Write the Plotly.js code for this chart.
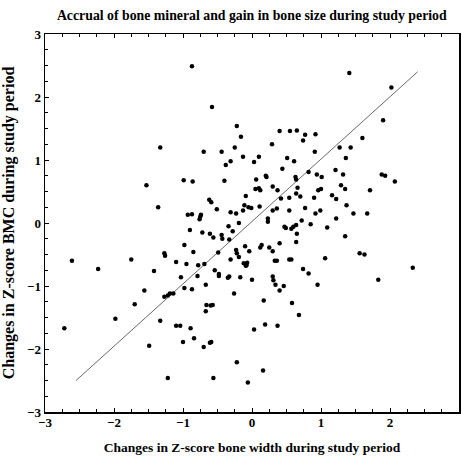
<!DOCTYPE html>
<html>
<head>
<meta charset="utf-8">
<script src="https://cdn.plot.ly/plotly-3.0.1.min.js"></script>
<style>html,body{margin:0;padding:0;background:#fff;}#chart{width:462px;height:459px;}</style>
</head>
<body>
<div id="chart"></div>
<script>
// Changes in Z-score bone width (x) and BMC (y) during study period
const widthChange = [
 -0.87,-0.58,-0.22,-0.16,-1.33,-0.70,-0.44,-0.25,-0.31,-0.38,-0.13,0.03,0.10,-1.53,-0.99,-0.86,-0.40,-1.36,-0.62,-0.59,
 -0.51,-0.93,-0.87,-0.74,-0.75,-0.76,-0.31,-0.23,0.06,0.05,0.10,0.12,-0.09,-0.11,-0.05,-0.01,-0.13,0.11,1.41,2.02,
 1.90,0.29,0.40,0.55,0.65,0.77,0.74,0.92,0.91,0.51,0.61,0.44,1.27,1.43,1.60,1.36,1.21,1.32,0.82,0.94,
 1.01,0.63,0.64,0.20,0.21,0.30,0.37,0.66,0.64,0.70,0.96,1.00,1.29,1.35,1.16,1.22,1.88,1.93,2.07,1.71,
 0.42,0.54,0.90,0.30,0.36,0.54,0.77,0.92,0.99,1.37,1.47,1.67,1.22,0.23,0.23,0.72,-0.19,0.85,
 -2.61,-2.23,-1.75,-1.42,-2.72,-1.56,-1.70,-1.98,-1.49,-1.33,-1.27,-1.26,-1.10,-0.98,-0.95,-1.03,-0.98,-0.87,-0.90,-0.85,
 -0.72,-0.78,-0.69,-0.79,-0.67,-1.27,-1.22,-1.19,-1.14,-1.10,-1.04,-0.89,-1.00,-0.84,-0.70,-0.66,-0.67,-0.60,-0.57,-0.61,
 -0.59,-1.22,-0.56,-0.49,-0.54,-0.48,-0.48,-0.61,-0.56,-0.44,-0.43,-0.34,-0.33,-0.28,-0.31,-0.35,-0.33,-0.26,-0.22,-0.23,
 -0.22,-0.19,-0.17,-0.10,-0.04,-0.12,-0.08,-0.07,-0.09,0.00,0.03,0.16,-0.06,0.47,0.49,0.57,0.60,0.64,0.65,0.64,
 1.35,1.09,0.40,0.12,0.14,0.25,0.30,0.33,0.36,0.54,0.57,1.06,1.56,1.63,2.33,1.83,0.30,0.31,0.34,0.40,
 0.46,0.74,0.82,0.95,0.17,0.58,0.68,0.19,0.37
];
const bmcChange = [
 2.49,1.84,1.54,1.37,1.20,1.13,1.13,1.20,0.98,0.92,1.05,0.97,1.05,0.60,0.68,0.66,0.67,0.25,0.37,0.33,
 0.22,0.13,0.14,0.13,0.10,0.06,0.17,0.15,0.69,0.54,0.55,0.52,0.43,0.28,0.25,0.24,0.20,0.26,2.38,2.15,
 1.63,1.25,1.46,1.46,1.47,1.40,1.31,1.41,1.13,1.03,0.98,0.86,1.20,1.20,1.35,1.03,0.84,0.77,0.81,0.77,
 0.73,0.73,0.69,0.75,0.73,0.58,0.52,0.56,0.47,0.42,0.52,0.54,0.60,0.54,0.44,0.38,0.77,0.75,0.66,0.52,
 0.39,0.40,0.40,0.20,0.23,0.20,0.24,0.15,0.20,0.28,0.15,0.15,0.07,0.07,0.02,0.04,0.00,-0.02,
 -0.60,-0.73,-0.58,-0.76,-1.67,-1.07,-1.29,-1.52,-1.95,-1.55,-0.48,-0.52,-0.62,-0.35,-0.65,-0.86,-1.03,-1.05,-0.11,-0.46,
 -0.15,-0.67,-0.65,-0.84,-0.98,-1.17,-1.15,-1.12,-1.12,-1.63,-1.63,-1.67,-1.89,-1.83,-1.97,-1.30,-1.40,-1.31,-1.30,-1.90,
 -1.89,-2.46,-2.46,-0.47,-0.75,-0.81,-0.84,-0.17,-0.23,-0.19,-0.25,-0.05,-0.26,-0.13,-0.58,-0.87,-0.85,-1.12,-2.21,-0.43,
 -0.48,-0.54,-0.86,-0.37,-0.45,-0.64,-0.67,-0.63,-0.68,-0.90,-1.69,-2.34,-2.53,-0.06,-0.08,-0.09,-0.06,-0.03,-0.17,-0.30,
 -0.21,-0.07,-0.32,-0.39,-0.35,-0.39,-0.45,-0.60,-0.60,-0.58,-0.58,-0.56,-0.48,-0.50,-0.71,-0.90,-0.85,-0.91,-0.98,-1.07,
 -1.00,-0.73,-0.80,-0.98,-1.23,-1.27,-1.46,-1.61,-1.63
];
// Identity-type reference line endpoints
const lineX = [-2.55, 2.40];
const lineY = [-2.50, 2.40];

const chartTitle = 'Accrual of bone mineral and gain in bone size during study period';
const xTitle = 'Changes in Z-score bone width during study period';
const yTitle = 'Changes in Z-score BMC during study period';

const serif = 'Liberation Serif, Times New Roman, serif';
const traces = [
  {x: lineX, y: lineY, type: 'scatter', mode: 'lines', line: {color: '#6a6a6a', width: 1}, hoverinfo: 'skip'},
  {x: widthChange, y: bmcChange, type: 'scatter', mode: 'markers', marker: {color: '#000000', size: 4.5}}
];
const axisBase = {
  range: [-3, 3], tick0: 0, dtick: 1, showgrid: false, zeroline: false,
  showline: true, linecolor: '#000', linewidth: 1.5,
  ticks: 'inside', ticklen: 4, tickwidth: 1, tickcolor: '#000',
  minor: {dtick: 0.25, ticks: 'inside', ticklen: 3, tickwidth: 1, tickcolor: '#000'},
  tickfont: {family: serif, size: 13, color: '#000', weight: 'bold'}
};
const layout = {
  width: 462, height: 459,
  margin: {l: 45, r: 3, t: 34, b: 47, pad: 0},
  paper_bgcolor: '#fff', plot_bgcolor: '#fff',
  showlegend: false,
  title: {text: chartTitle, x: 0.545, xanchor: 'center', y: 0.966, yanchor: 'middle', yref: 'container',
          font: {family: serif, size: 13.8, color: '#000', weight: 'bold'}},
  xaxis: Object.assign({}, axisBase, {mirror: 'ticks', ticklabelstandoff: -2,
    title: {text: xTitle, standoff: 13, font: {family: serif, size: 13.5, color: '#000', weight: 'bold'}}}),
  yaxis: Object.assign({}, axisBase, {mirror: true,
    title: {text: yTitle, standoff: 8, font: {family: serif, size: 16, color: '#000', weight: 'bold'}}}),
  yaxis2: {overlaying: 'y', side: 'right', range: [-3, 3], dtick: 1, tick0: 0, showgrid: false, zeroline: false,
    showline: false, ticks: 'inside', ticklen: 4, tickcolor: '#000', showticklabels: false}
};
Plotly.newPlot('chart', traces, layout, {displayModeBar: false, staticPlot: true});
</script>
</body>
</html>
